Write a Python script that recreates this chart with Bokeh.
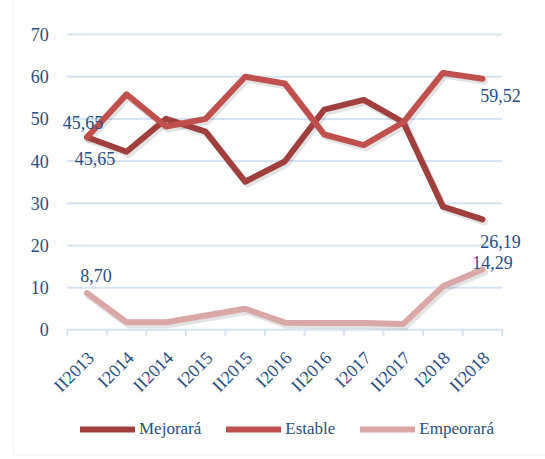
import math
from bokeh.plotting import figure
from bokeh.models import Range1d, Legend, LegendItem, BoxAnnotation
from bokeh.core.properties import value
from bokeh.embed import file_html
from bokeh.resources import INLINE

categories = ["II2013", "I2014", "II2014", "I2015", "II2015", "I2016",
              "II2016", "I2017", "II2017", "I2018", "II2018"]
mejorara = [45.65, 42.2, 50.0, 47.0, 35.1, 39.9, 52.2, 54.5, 49.2, 29.2, 26.19]
estable = [45.65, 55.8, 48.2, 50.0, 60.0, 58.4, 46.3, 43.8, 49.2, 60.9, 59.52]
empeorara = [8.70, 1.8, 1.8, 3.4, 5.0, 1.7, 1.6, 1.6, 1.4, 10.3, 14.29]
y_ticks = [0, 10, 20, 30, 40, 50, 60, 70]

FONT = "Liberation Serif"
TXT = "#2A4E82"
GRID = "#D6E3F3"
FRAME = "#DCE6F2"
C_MEJ = "#A0403E"
C_EST = "#C0504D"
C_EMP = "#D9A7A6"

n = len(categories)
xs = [i + 0.5 for i in range(n)]
PX_Y = 4.2186   # pixels per y unit
PX_X = 39.545   # pixels per category

p = figure(width=545, height=459, output_backend="svg", toolbar_location=None,
           x_range=Range1d(-1.687, n + 1.095), y_range=Range1d(-30.74, 78.06),
           min_border=0)
p.outline_line_color = None
p.background_fill_color = "white"
p.border_fill_color = "white"
p.axis.visible = False
p.grid.visible = False

# chart frame
p.add_layout(BoxAnnotation(left=13, right=700, top=5, bottom=700,
                           left_units="screen", right_units="screen",
                           top_units="screen", bottom_units="screen",
                           fill_color=None, line_color=FRAME, line_width=2))

# value axis labels and horizontal grid lines
p.segment(x0=[0] * len(y_ticks), x1=[n] * len(y_ticks), y0=y_ticks, y1=y_ticks,
          line_color=GRID, line_width=2)
p.text([0] * len(y_ticks), y_ticks, text=[str(t) for t in y_ticks], x_offset=-18.5,
       text_font=value(FONT), text_font_size="18px", text_color=TXT,
       text_align="right", text_baseline="middle")

# category axis
bounds = list(range(n + 1))
p.segment(x0=bounds, x1=bounds, y0=[0] * len(bounds),
          y1=[-6 / PX_Y] * len(bounds), line_color=GRID, line_width=2)
p.text(xs, [0] * n, text=categories, angle=math.pi / 4, x_offset=4, y_offset=25,
       text_font=value(FONT), text_font_size="18px", text_color=TXT,
       text_align="right", text_baseline="middle")

# shadows
dx = 2.0 / PX_X
dy = -2.5 / PX_Y
for ys in (empeorara, mejorara, estable):
    p.line([x + dx for x in xs], [y + dy for y in ys], line_color="black",
           line_alpha=0.11, line_width=7, line_join="round", line_cap="round")

r_emp = p.line(xs, empeorara, line_color=C_EMP, line_width=6,
               line_join="round", line_cap="round")
r_mej = p.line(xs, mejorara, line_color=C_MEJ, line_width=6,
               line_join="round", line_cap="round")
r_est = p.line(xs, estable, line_color=C_EST, line_width=6,
               line_join="round", line_cap="round")


def fmt(v):
    return f"{v:.2f}".replace(".", ",")


def label(i, series, xo, yo):
    p.text([xs[i]], [series[i]], text=[fmt(series[i])], x_offset=xo, y_offset=yo,
           text_font=value(FONT), text_font_size="18px", text_color=TXT,
           text_align="center", text_baseline="middle")


label(0, estable, -4, -15)
label(0, mejorara, 8, 21)
label(n - 1, estable, 18, 17)
label(n - 1, mejorara, 18, 22)
label(n - 1, empeorara, 10, -7)
label(0, empeorara, 9, -18)

legend = Legend(items=[LegendItem(label="Mejorará", renderers=[r_mej]),
                       LegendItem(label="Estable", renderers=[r_est]),
                       LegendItem(label="Empeorará", renderers=[r_emp])],
                orientation="horizontal", location=(80, 20),
                glyph_width=55, glyph_height=20, label_height=20,
                label_standoff=4, spacing=25, padding=0, margin=0,
                border_line_color=None, background_fill_alpha=0,
                label_text_font="'Liberation Serif', serif",
                label_text_font_size="17px", label_text_color=TXT)
p.add_layout(legend, "center")

open("out.html", "w").write(file_html(p, INLINE))
